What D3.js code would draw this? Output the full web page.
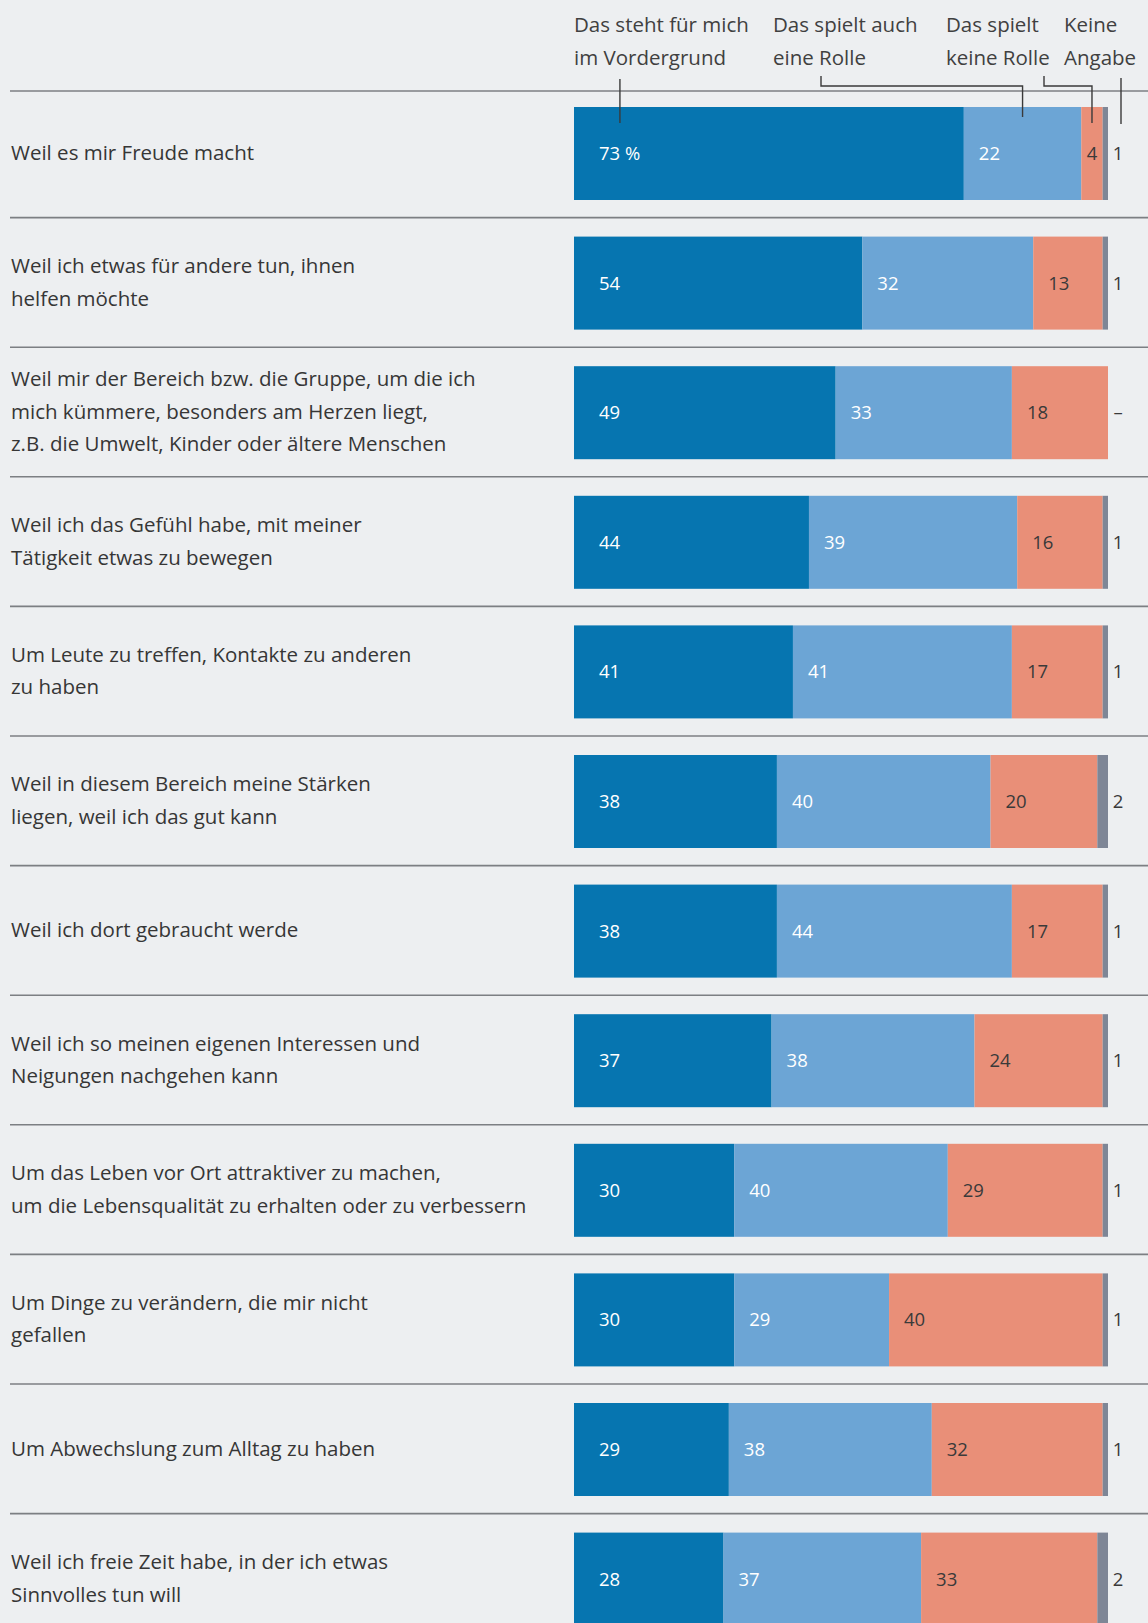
<!DOCTYPE html>
<html lang="de">
<head>
<meta charset="utf-8">
<script src="https://cdn.jsdelivr.net/npm/d3@7"></script>
<style>
  html, body { margin: 0; padding: 0; background: #edeff1; }
  svg { display: block; }
  text { font-family: "Open Sans", "Noto Sans", sans-serif; }
</style>
</head>
<body>
<script>
// Motive für freiwilliges Engagement (Anteile in Prozent)
const categories = [
  ["Weil es mir Freude macht"],
  ["Weil ich etwas für andere tun, ihnen", "helfen möchte"],
  ["Weil mir der Bereich bzw. die Gruppe, um die ich", "mich kümmere, besonders am Herzen liegt,", "z.B. die Umwelt, Kinder oder ältere Menschen"],
  ["Weil ich das Gefühl habe, mit meiner", "Tätigkeit etwas zu bewegen"],
  ["Um Leute zu treffen, Kontakte zu anderen", "zu haben"],
  ["Weil in diesem Bereich meine Stärken", "liegen, weil ich das gut kann"],
  ["Weil ich dort gebraucht werde"],
  ["Weil ich so meinen eigenen Interessen und", "Neigungen nachgehen kann"],
  ["Um das Leben vor Ort attraktiver zu machen,", "um die Lebensqualität zu erhalten oder zu verbessern"],
  ["Um Dinge zu verändern, die mir nicht", "gefallen"],
  ["Um Abwechslung zum Alltag zu haben"],
  ["Weil ich freie Zeit habe, in der ich etwas", "Sinnvolles tun will"]
];

const vordergrund   = [73, 54, 49, 44, 41, 38, 38, 37, 30, 30, 29, 28];
const auchRolle     = [22, 32, 33, 39, 41, 40, 44, 38, 40, 29, 38, 37];
const keineRolle    = [4, 13, 18, 16, 17, 20, 17, 24, 29, 40, 32, 33];
const keineAngabe   = [1, 1, null, 1, 1, 2, 1, 1, 1, 1, 1, 2];

const seriesNames = [
  ["Das steht für mich", "im Vordergrund"],
  ["Das spielt auch", "eine Rolle"],
  ["Das spielt", "keine Rolle"],
  ["Keine", "Angabe"]
];

const colors = ["#0675b0", "#6ca5d5", "#e98f78", "#7e8696"];
const labelColors = ["#ffffff", "#ffffff", "#3a3a3a", "#3a3a3a"];

const W = 1148, H = 1623;
const svg = d3.select("body").append("svg").attr("width", W).attr("height", H);

const n = categories.length;
const rowStep = 129.6;
const x = d3.scaleLinear().domain([0, 100]).range([574, 1108]);
const y = d3.scaleBand().domain(d3.range(n)).range([88, 88 + n * rowStep]).padding(0);
const barOffset = 19, barH = 93;

// stacked layout
const rows = d3.range(n).map(i => ({
  i,
  v: [vordergrund[i], auchRolle[i], keineRolle[i], keineAngabe[i] == null ? 0 : keineAngabe[i]]
}));
const stack = d3.stack().keys([0, 1, 2, 3]).value((d, k) => d.v[k]);
const layers = stack(rows);

// separator lines
svg.append("line")
  .attr("x1", 10).attr("x2", W).attr("y1", 91).attr("y2", 91)
  .attr("stroke", "#7c7f83").attr("stroke-width", 1.6);
svg.append("g").selectAll("line").data(d3.range(1, n)).join("line")
  .attr("x1", 10).attr("x2", W)
  .attr("y1", i => y(i)).attr("y2", i => y(i))
  .attr("stroke", "#7c7f83").attr("stroke-width", 1.6);

// bars
const gBars = svg.append("g");
layers.forEach((layer, k) => {
  gBars.append("g").selectAll("rect").data(layer).join("rect")
    .attr("x", d => x(d[0]))
    .attr("width", d => Math.max(0, x(d[1]) - x(d[0])))
    .attr("y", (d, i) => y(i) + barOffset)
    .attr("height", barH)
    .attr("fill", colors[k]);
});

// value labels inside segments
const gVals = svg.append("g").attr("font-size", 18.5);
layers.slice(0, 3).forEach((layer, k) => {
  layer.forEach((d, i) => {
    const val = d[1] - d[0];
    const txt = (k === 0 && i === 0) ? val + " %" : String(val);
    const t = gVals.append("text")
      .attr("y", y(i) + barOffset + barH / 2)
      .attr("dy", "0.35em")
      .attr("fill", labelColors[k])
      .text(txt);
    const tw = t.node().getComputedTextLength();
    const segW = x(d[1]) - x(d[0]);
    const pad = k === 0 ? 25 : Math.min(15, (segW - tw) / 2);
    t.attr("x", x(d[0]) + pad);
  });
});
// "Keine Angabe" values right of the bars
gVals.append("g").selectAll("text").data(d3.range(n)).join("text")
  .attr("x", x(100) + 10)
  .attr("y", i => y(i) + barOffset + barH / 2)
  .attr("dy", "0.35em")
  .attr("text-anchor", "middle")
  .attr("fill", labelColors[3])
  .text(i => keineAngabe[i] == null ? "–" : keineAngabe[i]);

// category labels
const lineH = 32.5;
const gLab = svg.append("g").attr("font-size", 20.5).attr("fill", "#363636");
categories.forEach((lines, i) => {
  const cy = y(i) + barOffset + barH / 2 - 1;
  const t = gLab.append("text").attr("x", 11);
  lines.forEach((ln, j) => {
    t.append("tspan")
      .attr("x", 11)
      .attr("y", cy + (j - (lines.length - 1) / 2) * lineH)
      .attr("dy", "0.35em")
      .text(ln);
  });
});

// column headers
const headX = [574, 773, 946, 1064];
const gHead = svg.append("g").attr("font-size", 20.5).attr("fill", "#404040");
seriesNames.forEach((lines, k) => {
  const t = gHead.append("text");
  lines.forEach((ln, j) => {
    t.append("tspan").attr("x", headX[k]).attr("y", 25 + j * 33).attr("dy", "0.35em").text(ln);
  });
});

// leader lines from headers into the first bar
const r0 = y(0) + barOffset;
const leaders = [
  [[x(8.6), 79], [x(8.6), r0 + 16]],
  [[821, 76], [821, 86], [x(73 + 22 / 2), 86], [x(73 + 22 / 2), r0 + 10]],
  [[1044, 76], [1044, 86], [x(95 + 4 / 2), 86], [x(95 + 4 / 2), r0 + 16]],
  [[x(100) + 13, 78], [x(100) + 13, r0 + 17]]
];
svg.append("g").selectAll("path").data(leaders).join("path")
  .attr("d", d3.line())
  .attr("fill", "none")
  .attr("stroke", "#3a3a3a")
  .attr("stroke-width", 1.4);
</script>
</body>
</html>
